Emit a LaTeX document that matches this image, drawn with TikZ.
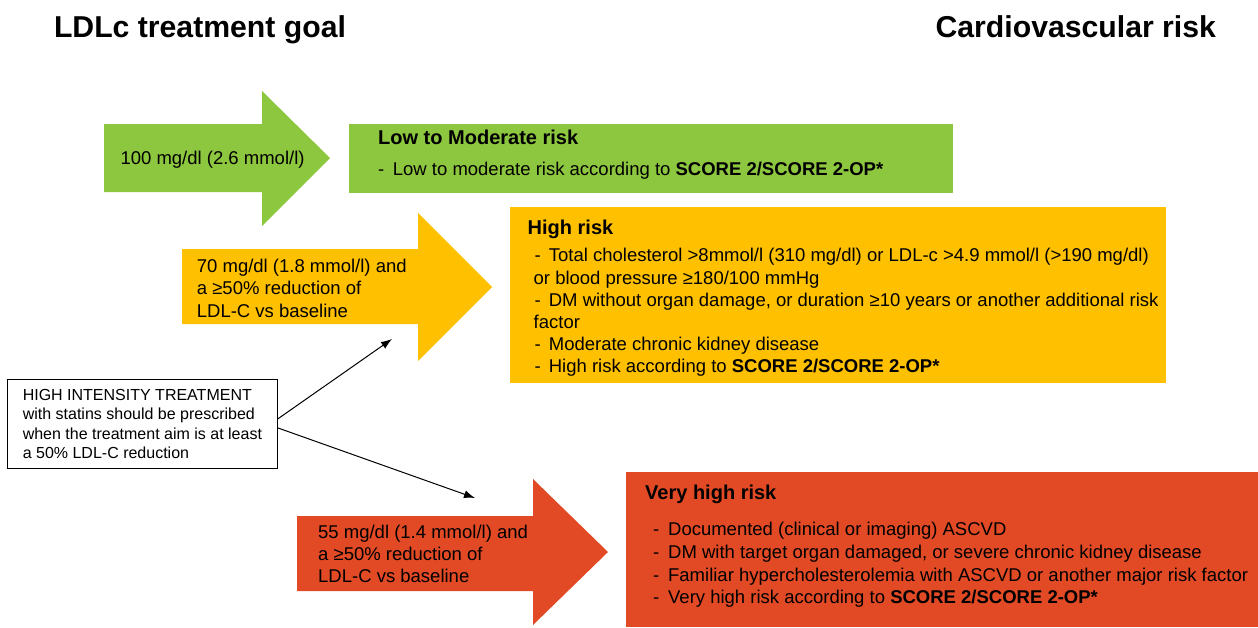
\documentclass[tikz,border=0pt]{standalone}
\usepackage{fontspec}
\setmainfont{Liberation Sans}
\usetikzlibrary{arrows.meta}

\definecolor{lowgreen}{RGB}{141,198,63}
\definecolor{highyellow}{RGB}{255,192,0}
\definecolor{veryred}{RGB}{226,74,37}

\tikzset{
  riskbox/.style={fill=#1, draw=none, inner sep=0pt, anchor=north west},
  risktext/.style={anchor=north west, inner sep=0pt, align=left},
  pointer/.style={-{Latex[length=11pt,width=8pt]}, line width=1pt},
}

\begin{document}
\begin{tikzpicture}[x=1pt,y=-1pt,
  every node/.style={font=\fontsize{18.5}{22.2}\selectfont}]
\useasboundingbox (0,0) rectangle (1258,627);

% headings
\node[anchor=base west, font=\bfseries\fontsize{30.2}{36}\selectfont] (goalhead) at (50.5,37) {LDLc treatment goal};
\node[anchor=base east, font=\bfseries\fontsize{30.2}{36}\selectfont] (riskhead) at (1219.5,37) {Cardiovascular risk};

% goal arrows
\fill[lowgreen] (104,124) -- (262,124) -- (262,91) -- (330,158) -- (262,226) -- (262,192) -- (104,192) -- cycle;
\fill[highyellow] (182,249) -- (418,249) -- (418,213) -- (492,287) -- (418,361) -- (418,324) -- (182,324) -- cycle;
\fill[veryred] (297,516) -- (533,516) -- (533,479) -- (608,552) -- (533,625) -- (533,591) -- (297,591) -- cycle;

\node[anchor=base west] (lowgoal) at (117,164) {100 mg/dl (2.6 mmol/l)};
\node[risktext] (highgoal) at (196.7,259) {70 mg/dl (1.8 mmol/l) and\\a ≥50\% reduction of\\LDL-C vs baseline};
\node[risktext] (vhighgoal) at (318,524.5) {55 mg/dl (1.4 mmol/l) and\\a ≥50\% reduction of\\LDL-C vs baseline};

% risk boxes
\node[riskbox=lowgreen, minimum width=604pt, minimum height=69pt] (low) at (349,124) {};
\node[riskbox=highyellow, minimum width=656pt, minimum height=176pt] (high) at (510,207) {};
\node[riskbox=veryred, minimum width=632pt, minimum height=155pt] (vhigh) at (626,472) {};

\node[risktext] (lowtxt) at (378,129.4) {\textbf{\fontsize{20}{22.2}\selectfont Low to Moderate risk}\\[9pt]
-\hspace{8.5pt}Low to moderate risk according to \textbf{SCORE 2/SCORE 2-OP*}};

\node[risktext] (hightxt) at (527.5,220) {\textbf{\fontsize{20}{22.2}\selectfont High risk}\\[5pt]
\hspace*{7pt}-\hspace{8pt}Total cholesterol >8mmol/l (310 mg/dl) or LDL-c >4.9 mmol/l (>190 mg/dl)\\
\hspace*{6pt}or blood pressure ≥180/100 mmHg\\
\hspace*{7pt}-\hspace{8pt}DM without organ damage, or duration ≥10 years or another additional risk\\
\hspace*{6pt}factor\\
\hspace*{7pt}-\hspace{8pt}Moderate chronic kidney disease\\
\hspace*{7pt}-\hspace{8pt}High risk according to \textbf{SCORE 2/SCORE 2-OP*}};

\node[risktext, font=\fontsize{18.5}{22.7}\selectfont] (vhightxt) at (645,484.4) {\textbf{\fontsize{20}{22.7}\selectfont Very high risk}\\[14pt]
\hspace*{8pt}-\hspace{8.8pt}Documented (clinical or imaging) ASCVD\\
\hspace*{8pt}-\hspace{8.8pt}DM with target organ damaged, or severe chronic kidney disease\\
\hspace*{8pt}-\hspace{8.8pt}Familiar hypercholesterolemia with ASCVD or another major risk factor\\
\hspace*{8pt}-\hspace{8.8pt}Very high risk according to \textbf{SCORE 2/SCORE 2-OP*}};

% statin note
\node[draw, line width=0.8pt, anchor=north west, inner xsep=14.7pt, inner ysep=0pt,
  minimum width=270pt, minimum height=89pt, align=left,
  font=\fontsize{16}{19.6}\selectfont] (note) at (7,379)
  {HIGH INTENSITY TREATMENT\\with statins should be prescribed\\when the treatment aim is at least\\a 50\% LDL-C reduction};

\coordinate (highend) at (392,339);
\coordinate (vhighend) at (475,498);
\draw[pointer] ([yshift=5pt]note.east) -- (highend);
\draw[pointer] ([yshift=-4pt]note.east) -- (vhighend);
\end{tikzpicture}
\end{document}
